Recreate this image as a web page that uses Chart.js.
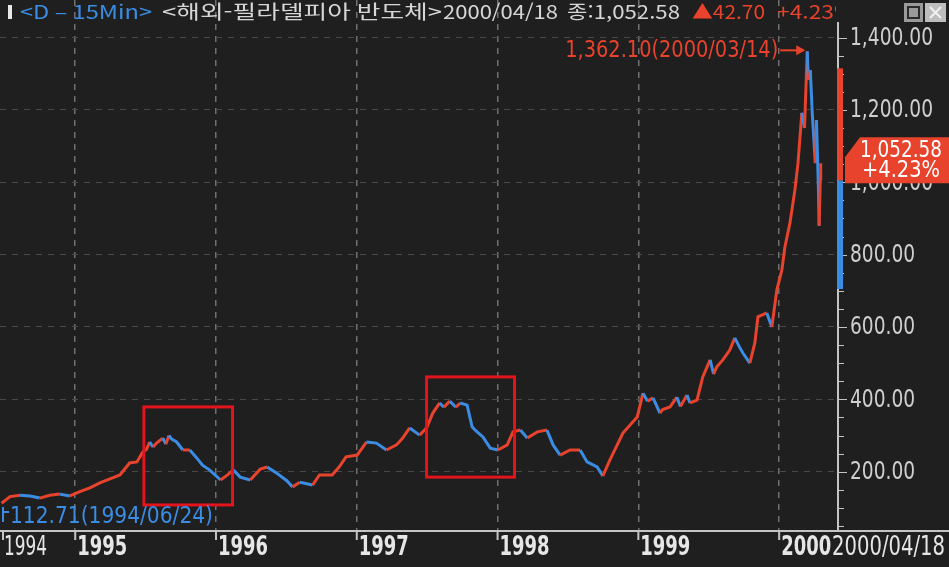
<!DOCTYPE html>
<html lang="ko">
<head>
  <meta charset="UTF-8">
  <title>해외-필라델피아 반도체</title>
  <script src="https://cdn.jsdelivr.net/npm/chart.js"></script>
  <style>
    html, body { margin: 0; padding: 0; background: #1f1f1f; overflow: hidden; }
    #wrap { position: relative; width: 949px; height: 567px; }
  </style>
</head>
<body>
  <div id="wrap"><canvas id="soxChart" width="949" height="567"></canvas></div>

  <script>
    // closing prices
    const dates = [
      '1994-06-24','1994-07-16','1994-08-11','1994-09-06','1994-10-01','1994-10-27','1994-11-22','1994-12-18',
      '1995-01-13','1995-02-08','1995-03-06','1995-04-01','1995-04-27','1995-05-22','1995-06-10','1995-06-25',
      '1995-07-05','1995-07-13','1995-07-22','1995-07-31','1995-08-16','1995-08-24','1995-09-01','1995-09-08',
      '1995-09-21','1995-10-07','1995-10-25','1995-11-12','1995-11-27','1995-12-15','1996-01-13','1996-01-31',
      '1996-02-15','1996-03-04','1996-03-30','1996-04-25','1996-05-13','1996-06-07','1996-07-03','1996-07-18',
      '1996-08-06','1996-09-08','1996-09-26','1996-10-29','1996-11-16','1996-12-04','1997-01-02','1997-01-26',
      '1997-02-21','1997-03-19','1997-04-14','1997-04-30','1997-05-18','1997-06-13','1997-07-01','1997-07-17',
      '1997-08-04','1997-08-15','1997-08-30','1997-09-15','1997-09-26','1997-10-14','1997-10-27','1997-11-01',
      '1997-11-09','1997-11-24','1997-12-13','1998-01-02','1998-01-26','1998-02-10','1998-03-01','1998-03-19',
      '1998-04-14','1998-05-09','1998-05-25','1998-06-12','1998-07-08','1998-08-03','1998-08-21','1998-09-16',
      '1998-10-01','1998-10-19','1998-11-22','1998-12-29','1999-01-13','1999-01-25','1999-02-08','1999-02-26',
      '1999-03-05','1999-03-24','1999-04-11','1999-04-20','1999-05-07','1999-05-15','1999-06-02','1999-06-17',
      '1999-07-06','1999-07-15','1999-07-23','1999-08-08','1999-08-26','1999-09-08','1999-09-20','1999-09-29',
      '1999-10-17','1999-10-30','1999-11-07','1999-11-30','1999-12-13','1999-12-26','2000-01-08','2000-01-16',
      '2000-01-29','2000-02-11','2000-02-19','2000-02-29','2000-03-07','2000-03-14','2000-03-17','2000-03-22',
      '2000-03-27','2000-04-04','2000-04-07','2000-04-12','2000-04-14','2000-04-17','2000-04-18'
    ];
    const closes = [
      112.71, 131, 135, 133, 127, 135, 138, 133,
      145, 155, 169, 180, 191, 224, 227, 254,
      262, 282, 268, 279, 293, 276, 300, 290,
      282, 260, 260, 238, 218, 205, 177, 191,
      205, 185, 177, 207, 213, 196, 175, 158,
      171, 163, 191, 191, 213, 241, 246, 282,
      279, 260, 274, 293, 321, 301, 321, 362,
      390, 378, 395, 378, 390, 384, 324, 318,
      310, 296, 265, 260, 274, 310, 315, 293,
      310, 315, 274, 246, 260, 260, 227, 213,
      188, 232, 307, 351, 417, 395, 404, 362,
      372, 379, 406, 380, 412, 390, 398, 462,
      509, 470, 489, 509, 536, 570, 545, 528,
      500, 556, 628, 639, 600, 702, 757, 821,
      887, 979, 1053, 1192, 1150, 1362.10, 1283, 1310,
      1192, 1053, 1172, 987, 880, 1009.88, 1052.58
    ];

    // axis ticks and labels
    const yearTickDates = ['1995-01-01','1996-01-01','1997-01-01','1998-01-01','1999-01-01','2000-01-01'];
    const yearTickLabels = ['1995','1996','1997','1998','1999','2000'];
    const firstLabel = '1994';
    const lastLabel = '2000/04/18';
    const priceTicks = [200, 400, 600, 800, 1000, 1200, 1400];
    const priceTickLabels = ['200.00','400.00','600.00','800.00','1,000.00','1,200.00','1,400.00'];

    // highlighted periods (red boxes): [from, to, low, high]
    const boxFrom = ['1995-06-28', '1997-07-01'];
    const boxTo   = ['1996-02-13', '1998-02-14'];
    const boxLow  = [108, 185];
    const boxHigh = [379, 462];

    // range bands on the price axis
    const bandRed = [1005, 1315];
    const bandBlue = [705, 1005];

    const RED = '#e8432c';
    const BLUE = '#3b8de4';
    const NARROW = "'Liberation Sans Narrow', 'DejaVu Sans Condensed', sans-serif";
    const KR = "'Noto Sans CJK KR', 'Noto Sans', sans-serif";

    // date string -> decimal year
    function toYear(s) {
      const d = new Date(s + 'T00:00:00Z');
      const y = d.getUTCFullYear();
      const a = Date.UTC(y, 0, 1), b = Date.UTC(y + 1, 0, 1);
      return y + (d.getTime() - a) / (b - a);
    }

    function fmt(v) {
      return v.toLocaleString('en-US', { minimumFractionDigits: 2, maximumFractionDigits: 2 });
    }

    // draw text stretched/squeezed to a given width (left edge at x)
    function fitText(c, text, x, y, w) {
      const m = c.measureText(text).width;
      c.save();
      c.translate(x, y);
      c.scale(w / m, 1);
      c.textAlign = 'left';
      c.fillText(text, 0, 0);
      c.restore();
    }

    const points = dates.map((d, i) => ({ x: toYear(d), y: closes[i] }));
    const lastIdx = closes.length - 1;
    const peakIdx = closes.indexOf(Math.max(...closes));
    const lowIdx = closes.indexOf(Math.min(...closes));

    const hts = {
      id: 'hts',
      beforeDraw(chart) {
        const c = chart.ctx;
        c.save();
        c.fillStyle = '#1f1f1f';
        c.fillRect(0, 0, chart.width, chart.height);
        c.restore();
      },
      afterDatasetsDraw(chart) {
        const c = chart.ctx, x = chart.scales.x, y = chart.scales.y;
        c.save();
        c.strokeStyle = '#e3141c';
        c.lineWidth = 3;
        for (let i = 0; i < boxFrom.length; i++) {
          const x0 = x.getPixelForValue(toYear(boxFrom[i]));
          const x1 = x.getPixelForValue(toYear(boxTo[i]));
          const y0 = y.getPixelForValue(boxHigh[i]);
          const y1 = y.getPixelForValue(boxLow[i]);
          c.strokeRect(x0, y0, x1 - x0, y1 - y0);
        }
        c.restore();
      },
      afterDraw(chart) {
        const c = chart.ctx, x = chart.scales.x, y = chart.scales.y;
        const area = chart.chartArea;
        const axisX = area.right, axisY = area.bottom;
        c.save();

        // axis lines
        c.strokeStyle = '#c4c4c4';
        c.lineWidth = 2;
        c.beginPath();
        c.moveTo(0, axisY); c.lineTo(chart.width, axisY);
        c.moveTo(axisX, 22); c.lineTo(axisX, axisY);
        c.stroke();

        // price axis ticks
        c.lineWidth = 1;
        y.ticks.forEach(t => {
          const py = Math.round(y.getPixelForValue(t.value)) + 0.5;
          if (py < 24) return;
          c.beginPath();
          c.moveTo(axisX, py);
          c.lineTo(axisX + (t.value % 200 === 0 ? 9 : 6), py);
          c.stroke();
        });

        // price labels
        c.fillStyle = '#cfcfcf';
        c.font = '25px ' + NARROW;
        c.textBaseline = 'middle';
        const k = 83 / c.measureText('1,200.00').width;
        priceTicks.forEach((v, i) => {
          const s = priceTickLabels[i];
          fitText(c, s, axisX + 12, y.getPixelForValue(v) + 1, c.measureText(s).width * k);
        });

        // range bands on the axis
        c.fillStyle = RED;
        let a = y.getPixelForValue(bandRed[1]), b = y.getPixelForValue(bandRed[0]);
        c.fillRect(axisX - 1, a, 6, b - a);
        c.fillStyle = BLUE;
        a = y.getPixelForValue(bandBlue[1]); b = y.getPixelForValue(bandBlue[0]);
        c.fillRect(axisX - 1, a, 6, b - a);

        // current price tag
        const py = y.getPixelForValue(closes[lastIdx]);
        c.fillStyle = RED;
        c.beginPath();
        c.moveTo(860, py - 26);
        c.lineTo(949, py - 26);
        c.lineTo(949, py + 20);
        c.lineTo(845, py + 20);
        c.lineTo(845, py - 6);
        c.closePath();
        c.fill();
        c.fillStyle = '#ffffff';
        c.font = '23px ' + NARROW;
        const prev = closes[lastIdx - 1];
        const pct = (closes[lastIdx] - prev) / prev * 100;
        fitText(c, fmt(closes[lastIdx]), 860, py - 12, 82);
        fitText(c, '+' + pct.toFixed(2) + '%', 862, py + 8, 78);

        // x axis ticks and labels
        c.strokeStyle = '#c4c4c4';
        c.lineWidth = 2;
        c.fillStyle = '#e6e6e6';
        c.beginPath();
        c.moveTo(3, axisY); c.lineTo(3, axisY + 9);
        yearTickDates.forEach(d => {
          const px = x.getPixelForValue(toYear(d));
          c.moveTo(px, axisY); c.lineTo(px, axisY + 9);
        });
        c.stroke();
        c.textBaseline = 'middle';
        c.font = '26px ' + NARROW;
        fitText(c, firstLabel, 4, axisY + 17, 43);
        c.font = 'bold 26px ' + NARROW;
        yearTickDates.forEach((d, i) => {
          const px = x.getPixelForValue(toYear(d));
          fitText(c, yearTickLabels[i], px + 2, axisY + 17, 50);
        });
        c.font = '26px ' + NARROW;
        fitText(c, lastLabel, 832, axisY + 17, 113);

        // peak annotation
        const hx = x.getPixelForValue(points[peakIdx].x);
        const hy = y.getPixelForValue(closes[peakIdx]);
        c.fillStyle = RED;
        c.strokeStyle = RED;
        c.font = '23px ' + NARROW;
        fitText(c, fmt(closes[peakIdx]) + '(' + dates[peakIdx].replace(/-/g, '/') + ')', hx - 242, hy, 213);
        c.lineWidth = 2;
        c.beginPath();
        c.moveTo(hx - 27, hy - 1); c.lineTo(hx - 4, hy - 1);
        c.stroke();
        c.beginPath();
        c.moveTo(hx - 2, hy - 1); c.lineTo(hx - 11, hy - 6); c.lineTo(hx - 11, hy + 4);
        c.closePath(); c.fill();

        // low annotation
        c.fillStyle = BLUE;
        c.strokeStyle = BLUE;
        c.font = '23px ' + NARROW;
        fitText(c, fmt(closes[lowIdx]) + '(' + dates[lowIdx].replace(/-/g, '/') + ')', 10, 517, 203);
        c.beginPath();
        c.moveTo(3, 507); c.lineTo(3, 522);
        c.moveTo(3, 512); c.lineTo(9, 512);
        c.stroke();

        // title line
        c.textBaseline = 'middle';
        c.fillStyle = '#e8e8e8';
        c.fillRect(8, 5, 4, 14);
        c.font = '19px ' + KR;
        c.fillStyle = BLUE;
        fitText(c, '<D \u2013 15Min>', 20, 12, 132);
        c.fillStyle = '#d6d6d6';
        fitText(c, '<해외-필라델피아 반도체>', 162, 12, 280);
        fitText(c, '2000/04/18', 443, 12, 115);
        fitText(c, '종:' + fmt(closes[lastIdx]), 567, 12, 113);
        c.fillStyle = RED;
        fitText(c, '▲' + (closes[lastIdx] - prev).toFixed(2), 692, 12, 73);
        c.save();
        c.beginPath(); c.rect(0, 0, axisX - 2, 30); c.clip();
        fitText(c, '+' + pct.toFixed(2) + '%', 777, 12, 78);
        c.restore();

        // window buttons
        c.fillStyle = '#9a9a9a';
        c.fillRect(904, 3, 19, 19);
        c.fillStyle = '#bdbdbd';
        c.fillRect(925, 3, 21, 19);
        c.strokeStyle = '#2a2a2a';
        c.lineWidth = 2;
        c.strokeRect(908, 7, 11, 11);
        c.strokeStyle = '#f0f0f0';
        c.beginPath();
        c.moveTo(930, 7); c.lineTo(941, 18);
        c.moveTo(941, 7); c.lineTo(930, 18);
        c.stroke();

        c.restore();
      }
    };

    new Chart(document.getElementById('soxChart'), {
      type: 'line',
      data: {
        datasets: [{
          data: points,
          borderWidth: 3,
          pointRadius: 0,
          tension: 0,
          borderColor: RED,
          segment: {
            borderColor: ctx => ctx.p1.parsed.y >= ctx.p0.parsed.y ? RED : BLUE
          }
        }]
      },
      options: {
        responsive: false,
        animation: false,
        events: [],
        layout: { padding: 0 },
        plugins: { legend: { display: false }, tooltip: { enabled: false } },
        scales: {
          x: {
            type: 'linear',
            min: toYear('1994-06-20'),
            max: toYear('2000-06-02'),
            afterBuildTicks: s => { s.ticks = yearTickDates.map(d => ({ value: toYear(d) })); },
            afterFit: s => { s.height = 36; },
            ticks: { display: false },
            grid: { color: '#707070', lineWidth: 1.5, drawTicks: false },
            border: { display: false, dash: [6, 6] }
          },
          y: {
            position: 'right',
            min: 36,
            max: 1504,
            afterBuildTicks: s => {
              const t = [];
              for (let v = 50; v <= 1450; v += 50) t.push({ value: v });
              s.ticks = t;
            },
            afterFit: s => { s.width = 111; },
            ticks: { display: false },
            grid: {
              color: c => (c.tick && c.tick.value % 200 === 0) ? '#4a4a4a' : 'transparent',
              drawTicks: false
            },
            border: { display: false, dash: [6, 6] }
          }
        }
      },
      plugins: [hts]
    });
  </script>
</body>
</html>
